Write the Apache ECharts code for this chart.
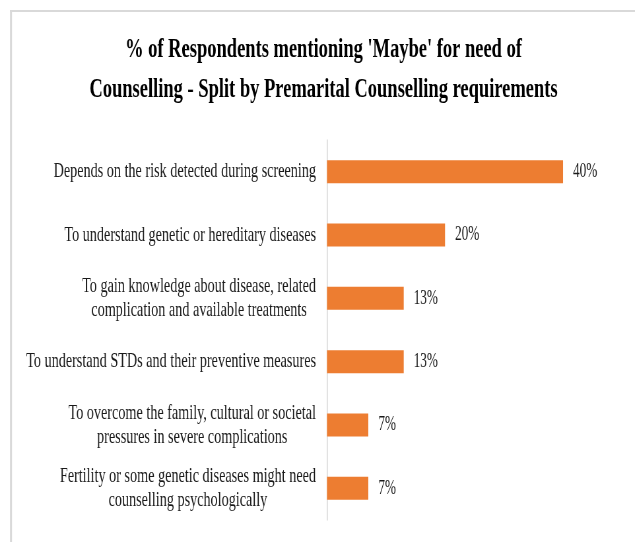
<!DOCTYPE html>
<html>
<head>
<meta charset="utf-8">
<title>Premarital Counselling – 'Maybe' respondents</title>
<script src="https://cdn.jsdelivr.net/npm/echarts@6/dist/echarts.min.js"></script>
<style>
  html, body { margin: 0; padding: 0; background: #fff; overflow: hidden; }
  #wrap { width: 635px; height: 542px; overflow: hidden; position: relative; }
  /* The chart is laid out wider and squeezed horizontally to get the narrow Times look */
  #chart { position: absolute; left: 0; top: 0; height: 542px; transform-origin: 0 0; }
</style>
</head>
<body>
<div id="wrap"><div id="chart"></div></div>
<script>
// Reasons given by respondents who answered 'Maybe'
const categories = [
  'Depends on the risk detected during screening',
  'To understand genetic or hereditary diseases',
  'To gain knowledge about disease, related\ncomplication and available treatments',
  'To understand STDs and their preventive measures',
  'To overcome the family, cultural or societal\npressures in severe complications',
  'Fertility or some genetic diseases might need\ncounselling psychologically'
];
const percentValues = [40, 20, 13, 13, 7, 7];
const titleLines = [
  "% of Respondents mentioning 'Maybe' for need of",
  'Counselling - Split by Premarital Counselling requirements'
];

const SX = 0.66;                // horizontal squeeze factor
const W = Math.round(635 / SX); // layout width before squeezing
const X = v => v / SX;          // screen x -> layout x

const el = document.getElementById('chart');
el.style.width = W + 'px';
el.style.transform = 'scaleX(' + SX + ')';

const FONT = "'Liberation Serif', 'Times New Roman', serif";
const chart = echarts.init(el, null, { renderer: 'canvas' });

chart.setOption({
  animation: false,
  backgroundColor: '#ffffff',
  title: {
    text: titleLines.join('\n'),
    left: X(323.5),
    top: 30,
    textAlign: 'center',
    padding: 0,
    textStyle: {
      fontFamily: FONT,
      fontWeight: 'bold',
      fontSize: 28,
      lineHeight: 40,
      color: '#000000'
    }
  },
  graphic: [
    { type: 'line', shape: { x1: X(10), y1: 11, x2: W, y2: 11 }, style: { stroke: '#d9d9d9', lineWidth: 2 }, silent: true },
    { type: 'line', shape: { x1: X(11), y1: 10, x2: X(11), y2: 542 }, style: { stroke: '#d9d9d9', lineWidth: 2 / SX }, silent: true }
  ],
  grid: {
    left: X(327),
    right: W - X(327) - X(5.9 * 50),
    top: 140,
    bottom: 22,
    containLabel: false
  },
  xAxis: {
    type: 'value',
    min: 0,
    max: 50,
    show: false
  },
  yAxis: {
    type: 'category',
    inverse: true,
    data: categories,
    axisLine: { show: true, lineStyle: { color: '#d9d9d9', width: 1 / SX } },
    axisTick: { show: false },
    axisLabel: {
      margin: X(11),
      align: 'right',
      formatter: v => v.split('\n').map(l => '{c|' + l + '}').join('\n'),
      rich: {
        c: {
          align: 'center',
          fontFamily: FONT,
          fontSize: 21.5,
          lineHeight: 24,
          color: '#1a1a1a'
        }
      }
    }
  },
  series: [{
    type: 'bar',
    data: percentValues,
    barWidth: 23,
    itemStyle: { color: '#ed7d31' },
    label: {
      show: true,
      position: 'right',
      distance: X(10),
      formatter: '{c}%',
      fontFamily: FONT,
      fontSize: 20,
      color: '#1a1a1a'
    }
  }]
});
</script>
</body>
</html>
